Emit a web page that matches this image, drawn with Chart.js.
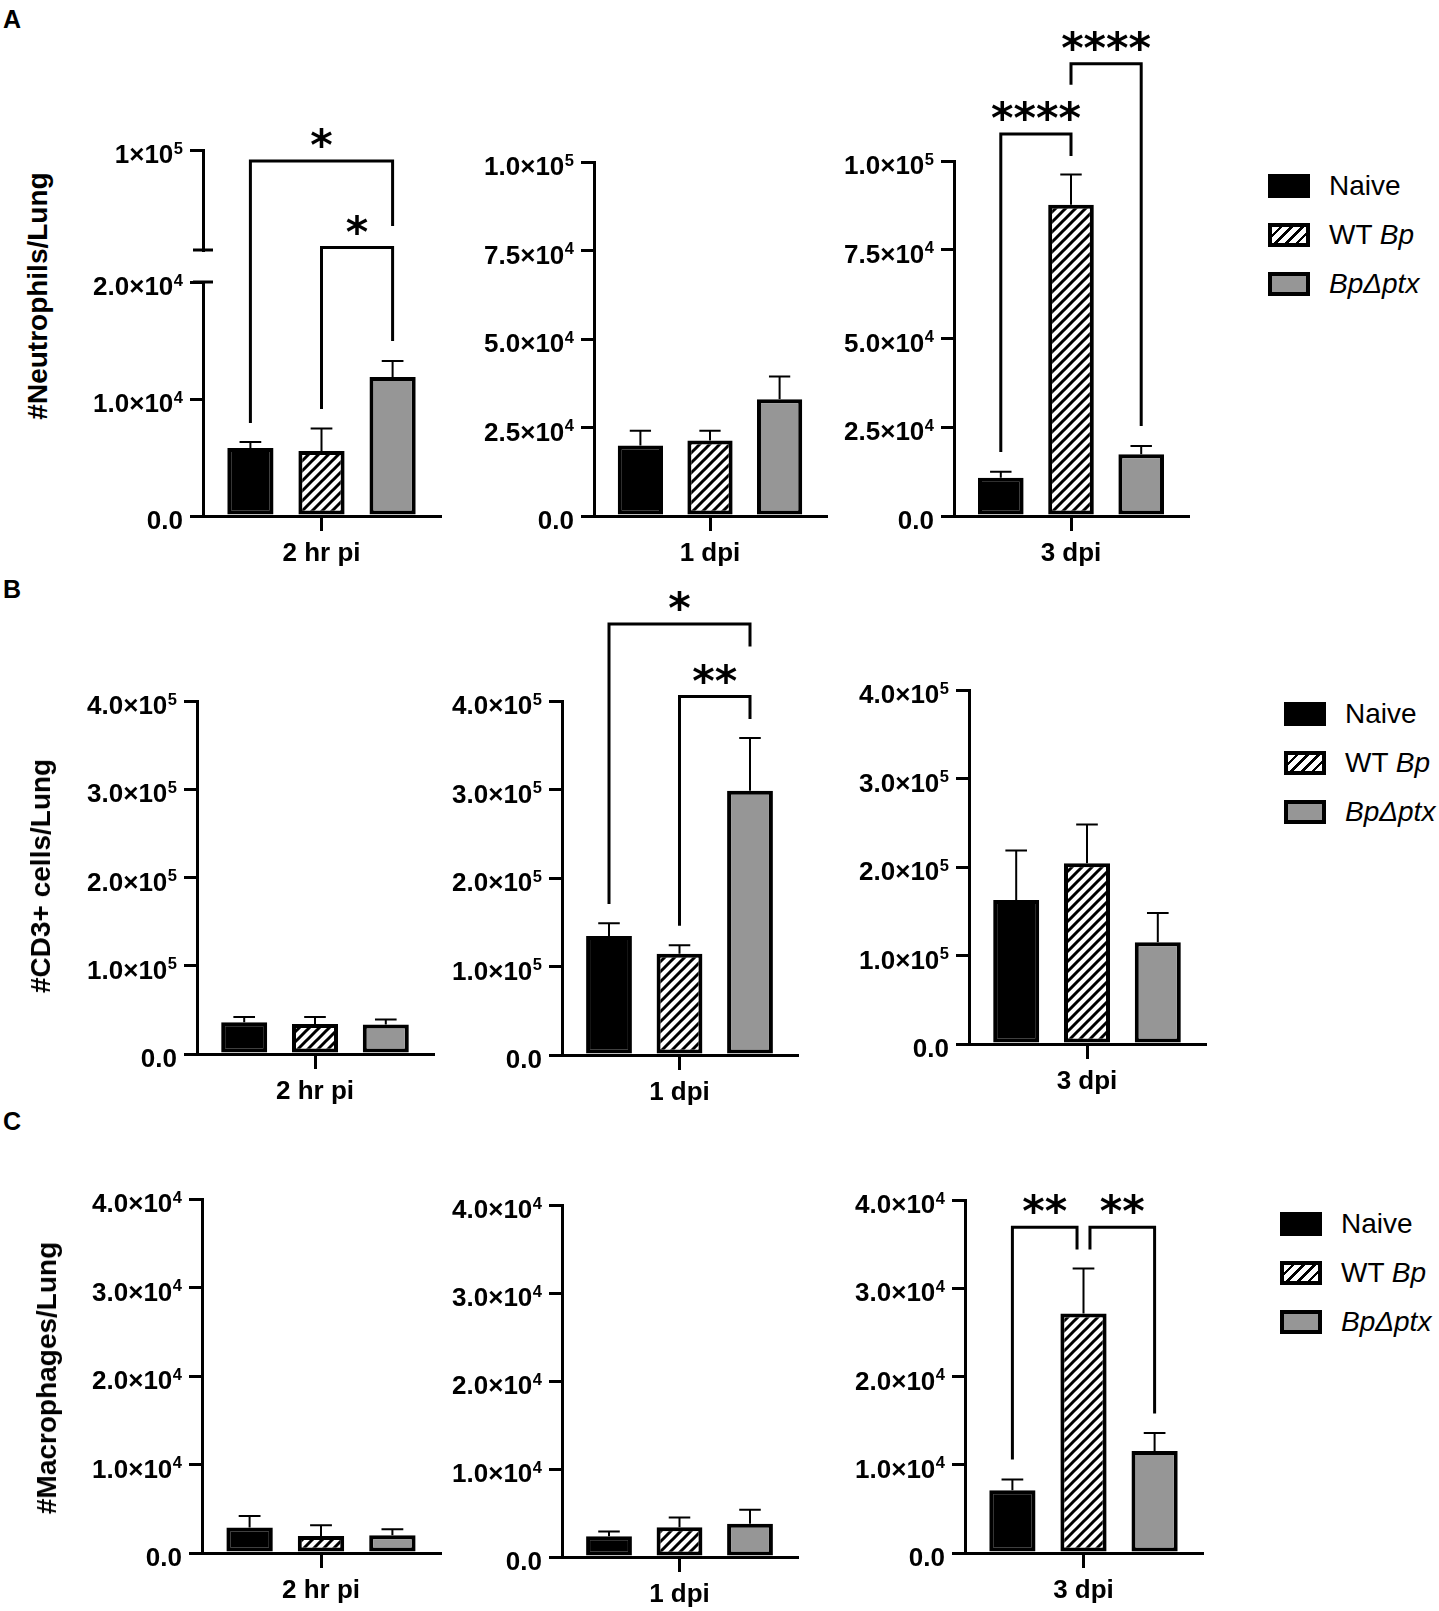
<!DOCTYPE html>
<html lang="en">
<head>
<meta charset="utf-8">
<title>Neutrophils, CD3+ cells and macrophages per lung</title>
<script src="https://cdn.jsdelivr.net/npm/chart.js@4.4.1/dist/chart.umd.min.js"></script>
<style>
  html, body { margin: 0; padding: 0; background: #fff; }
  #fig { position: relative; width: 1439px; height: 1611px; overflow: hidden; background: #fff; }
  #fig canvas { position: absolute; }
  .letter { position: absolute; left: 3px; font: bold 25px/25px "Liberation Sans", Arial, sans-serif; color: #000; }
  .ytitle { position: absolute; font: bold 28px/28px "Liberation Sans", Arial, sans-serif; color: #000;
            white-space: nowrap; transform: translate(-50%, -50%) rotate(-90deg); }
  .legend { position: absolute; font: 28px/28px "Liberation Sans", Arial, sans-serif; color: #000; }
  .legend .row { position: absolute; left: 0; height: 24px; display: flex; align-items: center; white-space: nowrap; }
  .legend .sw { width: 42px; height: 24px; box-sizing: border-box; border: 4px solid #000; margin-right: 19px; flex: none; }
</style>
</head>
<body>
<div id="fig"></div>
<script>
// ---- data ----
const timepoints = ['2 hr pi', '1 dpi', '3 dpi'];
const seriesNames = ['Naive', 'WT Bp', 'BpΔptx'];
const rowTitles = ['#Neutrophils/Lung', '#CD3+ cells/Lung', '#Macrophages/Lung'];
const panelLetters = ['A', 'B', 'C'];

// mean per timepoint, order Naive / WT Bp / BpΔptx; err = upper error arm
const neutroMean = [[5810, 5560, 11880], [19900, 21300, 33000], [10750, 87700, 17400]];
const neutroErr  = [[520, 1910, 1370], [4160, 2760, 6400], [1690, 8480, 2300]];
const cd3Mean    = [[36000, 34000, 33300], [134400, 114500, 298700], [162600, 204300, 115100]];
const cd3Err     = [[5900, 7900, 5700], [14400, 9400, 59600], [56000, 43700, 32800]];
const macroMean  = [[2870, 1920, 2000], [2350, 3370, 3780], [7110, 27150, 11570]];
const macroErr   = [[1320, 1210, 680], [560, 1130, 1590], [1210, 5100, 2040]];

// y ticks
const neutroLowTicks   = [0, 10000, 20000];
const neutroLowLabels  = ['0.0', '1.0×10⁴', '2.0×10⁴'];
const neutroHighTicks  = [100000];
const neutroHighLabels = ['1×10⁵'];
const neutroBreakAt    = 20000;
const neutroTicks  = [0, 25000, 50000, 75000, 100000];
const neutroLabels = ['0.0', '2.5×10⁴', '5.0×10⁴', '7.5×10⁴', '1.0×10⁵'];
const cd3Ticks     = [0, 100000, 200000, 300000, 400000];
const cd3Labels    = ['0.0', '1.0×10⁵', '2.0×10⁵', '3.0×10⁵', '4.0×10⁵'];
const macroTicks   = [0, 10000, 20000, 30000, 40000];
const macroLabels  = ['0.0', '1.0×10⁴', '2.0×10⁴', '3.0×10⁴', '4.0×10⁴'];

// significance brackets: [from group, to group, label, bracket height, left leg end, right leg end]
const neutroSig2h = [[0, 2, '*', 91200, 7950, 39200], [1, 2, '*', 22000, 9150, 14960]];
const neutroSig3d = [[0, 1, '****', 107600, 18030, 101400], [1, 2, '****', 127400, 121500, 25350]];
const cd3Sig1d    = [[0, 2, '*', 487000, 170600, 461500], [1, 2, '**', 405000, 146000, 379700]];
const macroSig3d  = [[0, 1, '**', 36900, 10590, 34400], [1, 2, '**', 36900, 34400, 15800]];

// ---- layout ----
const YW = 150;   // room left of each y axis
const XH = 58;    // room below each x axis
const PR = 14;
const TICK = 13;
const fig = document.getElementById('fig');
const SUP = '⁰¹²³⁴⁵⁶⁷⁸⁹';

function hatchPattern() {
  const c = document.createElement('canvas');
  c.width = c.height = 10;
  const g = c.getContext('2d');
  g.fillStyle = '#fff';
  g.fillRect(0, 0, 10, 10);
  g.strokeStyle = '#000';
  g.lineWidth = 3;
  g.beginPath();
  g.moveTo(-3, 13); g.lineTo(13, -3);
  g.moveTo(-3, 3); g.lineTo(3, -3);
  g.moveTo(7, 13); g.lineTo(13, 7);
  g.stroke();
  return g.createPattern(c, 'repeat');
}
const fills = ['#000000', hatchPattern(), '#969696'];

// y tick labels with a raised exponent
function drawYLabels(chart, labelsById) {
  const ctx = chart.ctx;
  ctx.fillStyle = '#000';
  ctx.textAlign = 'right';
  ctx.textBaseline = 'alphabetic';
  Object.keys(labelsById).forEach(id => {
    const s = chart.scales[id];
    const labels = labelsById[id];
    s.ticks.forEach((t, i) => {
      const parts = labels[i].match(/^(.*?)([⁰¹²³⁴⁵⁶⁷⁸⁹]*)$/);
      const exp = Array.from(parts[2]).map(ch => SUP.indexOf(ch)).join('');
      const y = s.getPixelForValue(t.value);
      let x = s.right - TICK - 7;
      if (exp) {
        ctx.font = 'bold 16.5px "Liberation Sans"';
        ctx.fillText(exp, x, y + 3.5);
        x -= ctx.measureText(exp).width + 0.5;
      }
      ctx.font = 'bold 26px "Liberation Sans"';
      ctx.fillText(parts[1], x, y + 13);
    });
  });
}

// error bars, significance brackets, axis break marks, tick labels
const overlay = {
  id: 'overlay',
  afterDatasetsDraw(chart, args, opts) {
    const ctx = chart.ctx;
    const split = opts.splitAt;
    const yPix = v => (split !== undefined && v > split ? chart.scales.yTop : chart.scales.y).getPixelForValue(v);
    ctx.save();
    ctx.strokeStyle = '#000';
    ctx.fillStyle = '#000';

    chart.data.datasets.forEach((ds, i) => {
      chart.getDatasetMeta(i).data.forEach((bar, j) => {
        const top = yPix(ds.data[j] + ds.err[j]);
        const half = bar.width * 0.235;
        ctx.lineWidth = 2;
        ctx.beginPath();
        ctx.moveTo(bar.x, bar.y);
        ctx.lineTo(bar.x, top);
        ctx.moveTo(bar.x - half, top);
        ctx.lineTo(bar.x + half, top);
        ctx.stroke();
      });
    });

    const list = opts.brackets || [];
    ctx.lineWidth = 3;
    ctx.lineJoin = 'miter';
    ctx.font = 'bold 43px "DejaVu Sans"';
    ctx.textAlign = 'center';
    ctx.textBaseline = 'alphabetic';
    list.forEach((b, k) => {
      const [a, c, label, yv, endA, endC] = b;
      const barA = chart.getDatasetMeta(a).data[0];
      const barC = chart.getDatasetMeta(c).data[0];
      const nudge = barA.width * 0.14;
      let xa = barA.x, xc = barC.x;
      // two brackets meeting on one bar at the same height: pull their legs apart
      list.forEach((o, m) => {
        if (m === k || o[3] !== yv) return;
        if (o[1] === a) xa += nudge;
        if (o[0] === c) xc -= nudge;
      });
      const yb = yPix(yv);
      ctx.beginPath();
      ctx.moveTo(xa, yPix(endA));
      ctx.lineTo(xa, yb);
      ctx.lineTo(xc, yb);
      ctx.lineTo(xc, yPix(endC));
      ctx.stroke();
      const mt = ctx.measureText(label);
      const cy = yb - 23;
      ctx.fillText(label, (xa + xc) / 2, cy + (mt.actualBoundingBoxAscent - mt.actualBoundingBoxDescent) / 2);
    });

    if (split !== undefined) {
      const x = chart.chartArea.left;
      ctx.lineWidth = 3;
      ctx.beginPath();
      [chart.scales.yTop.bottom, chart.scales.y.top].forEach(yy => {
        ctx.moveTo(x - 10, yy);
        ctx.lineTo(x + 10, yy);
      });
      ctx.stroke();
    }

    drawYLabels(chart, opts.yLabels || {});
    ctx.restore();
  }
};

function yAxis(vals, extra) {
  return Object.assign({
    type: 'linear',
    position: 'left',
    min: vals[0],
    max: vals[vals.length - 1],
    border: { display: true, width: 3, color: '#000' },
    grid: { drawOnChartArea: false, tickLength: TICK, lineWidth: 3, color: '#000' },
    ticks: { display: false },
    afterBuildTicks: s => { s.ticks = vals.map(v => ({ value: v })); },
    afterFit: s => { s.width = YW; }
  }, extra || {});
}

function xAxis() {
  return {
    type: 'category',
    offset: true,
    border: { display: true, width: 3, color: '#000' },
    grid: { drawOnChartArea: false, offset: false, tickLength: 15, lineWidth: 3, color: '#000' },
    ticks: { color: '#000', font: { family: '"Liberation Sans"', weight: 'bold', size: 26 }, padding: 7, maxRotation: 0, autoSkip: false },
    afterFit: s => { s.height = XH; }
  };
}

function addChart(g, label, mean, err, scales, overlayOpts) {
  const cv = document.createElement('canvas');
  const x0 = g.axis - YW;
  const w = g.right + PR - x0;
  const h = g.bottom + XH - g.ct;
  cv.width = w; cv.height = h;
  cv.style.left = x0 + 'px'; cv.style.top = g.ct + 'px';
  cv.style.width = w + 'px'; cv.style.height = h + 'px';
  fig.appendChild(cv);
  return new Chart(cv, {
    type: 'bar',
    data: {
      labels: [label],
      datasets: seriesNames.map((name, i) => ({
        label: name,
        data: [mean[i]],
        err: [err[i]],
        backgroundColor: fills[i],
        borderColor: '#000',
        borderWidth: 4,
        borderSkipped: false,
        barPercentage: 0.65,
        categoryPercentage: 0.9
      }))
    },
    options: {
      responsive: false,
      animation: false,
      events: [],
      layout: { padding: { top: g.top - g.ct, right: PR, bottom: 0, left: 0 } },
      plugins: { legend: { display: false }, tooltip: { enabled: false }, overlay: overlayOpts },
      scales: Object.assign({ x: xAxis() }, scales)
    },
    plugins: [overlay]
  });
}

// chart area corners: axis = y-axis x, right = x-axis end, top = pixel of max, bottom = pixel of 0, ct = canvas top
const geom = [
  [{ axis: 203, right: 440, top: 150, bottom: 516, ct: 0 },
   { axis: 594, right: 826, top: 162, bottom: 516, ct: 0 },
   { axis: 954, right: 1188, top: 161, bottom: 516, ct: 0 }],
  [{ axis: 197, right: 433, top: 701, bottom: 1054, ct: 570 },
   { axis: 562, right: 797, top: 701, bottom: 1055, ct: 570 },
   { axis: 969, right: 1205, top: 690, bottom: 1044, ct: 570 }],
  [{ axis: 202, right: 440, top: 1199, bottom: 1553, ct: 1140 },
   { axis: 562, right: 797, top: 1205, bottom: 1557, ct: 1140 },
   { axis: 965, right: 1202, top: 1200, bottom: 1553, ct: 1140 }]
];

// A: neutrophils (2 hr pi panel has a broken axis)
addChart(geom[0][0], timepoints[0], neutroMean[0], neutroErr[0], {
  y: yAxis(neutroLowTicks, { stack: 'brk', stackWeight: 234, weight: 1 }),
  yGap: { type: 'linear', position: 'left', display: false, stack: 'brk', stackWeight: 32, weight: 2 },
  yTop: yAxis(neutroHighTicks, { min: neutroBreakAt, stack: 'brk', stackWeight: 100, weight: 3 })
}, { brackets: neutroSig2h, splitAt: neutroBreakAt, yLabels: { y: neutroLowLabels, yTop: neutroHighLabels } });
addChart(geom[0][1], timepoints[1], neutroMean[1], neutroErr[1], { y: yAxis(neutroTicks) },
  { yLabels: { y: neutroLabels } });
addChart(geom[0][2], timepoints[2], neutroMean[2], neutroErr[2], { y: yAxis(neutroTicks) },
  { brackets: neutroSig3d, yLabels: { y: neutroLabels } });

// B: CD3+ cells
addChart(geom[1][0], timepoints[0], cd3Mean[0], cd3Err[0], { y: yAxis(cd3Ticks) }, { yLabels: { y: cd3Labels } });
addChart(geom[1][1], timepoints[1], cd3Mean[1], cd3Err[1], { y: yAxis(cd3Ticks) },
  { brackets: cd3Sig1d, yLabels: { y: cd3Labels } });
addChart(geom[1][2], timepoints[2], cd3Mean[2], cd3Err[2], { y: yAxis(cd3Ticks) }, { yLabels: { y: cd3Labels } });

// C: macrophages
addChart(geom[2][0], timepoints[0], macroMean[0], macroErr[0], { y: yAxis(macroTicks) }, { yLabels: { y: macroLabels } });
addChart(geom[2][1], timepoints[1], macroMean[1], macroErr[1], { y: yAxis(macroTicks) }, { yLabels: { y: macroLabels } });
addChart(geom[2][2], timepoints[2], macroMean[2], macroErr[2], { y: yAxis(macroTicks) },
  { brackets: macroSig3d, yLabels: { y: macroLabels } });

// panel letters, row titles, legends
const letterTops = [7, 577, 1109];
const titleCentres = [[38, 296], [41, 876], [47, 1378]];
const legendSpots = [[1268, 174], [1284, 702], [1280, 1212]];
const swatchCss = [
  'background:#000',
  'background:repeating-linear-gradient(135deg,#fff 0 5px,#000 5px 7.6px)',
  'background:#969696'
];
const italicName = n => n.replace(/Bp(Δptx)?/, m => '<i>' + m + '</i>');

panelLetters.forEach((t, r) => {
  const d = document.createElement('div');
  d.className = 'letter';
  d.style.top = letterTops[r] + 'px';
  d.textContent = t;
  fig.appendChild(d);

  const yt = document.createElement('div');
  yt.className = 'ytitle';
  yt.style.left = titleCentres[r][0] + 'px';
  yt.style.top = titleCentres[r][1] + 'px';
  yt.textContent = rowTitles[r];
  fig.appendChild(yt);

  const lg = document.createElement('div');
  lg.className = 'legend';
  lg.style.left = legendSpots[r][0] + 'px';
  lg.style.top = legendSpots[r][1] + 'px';
  lg.innerHTML = seriesNames.map((n, i) =>
    '<div class="row" style="top:' + (i * 49) + 'px"><span class="sw" style="' + swatchCss[i] + '"></span><span>' +
    italicName(n) + '</span></div>').join('');
  fig.appendChild(lg);
});
</script>
</body>
</html>
